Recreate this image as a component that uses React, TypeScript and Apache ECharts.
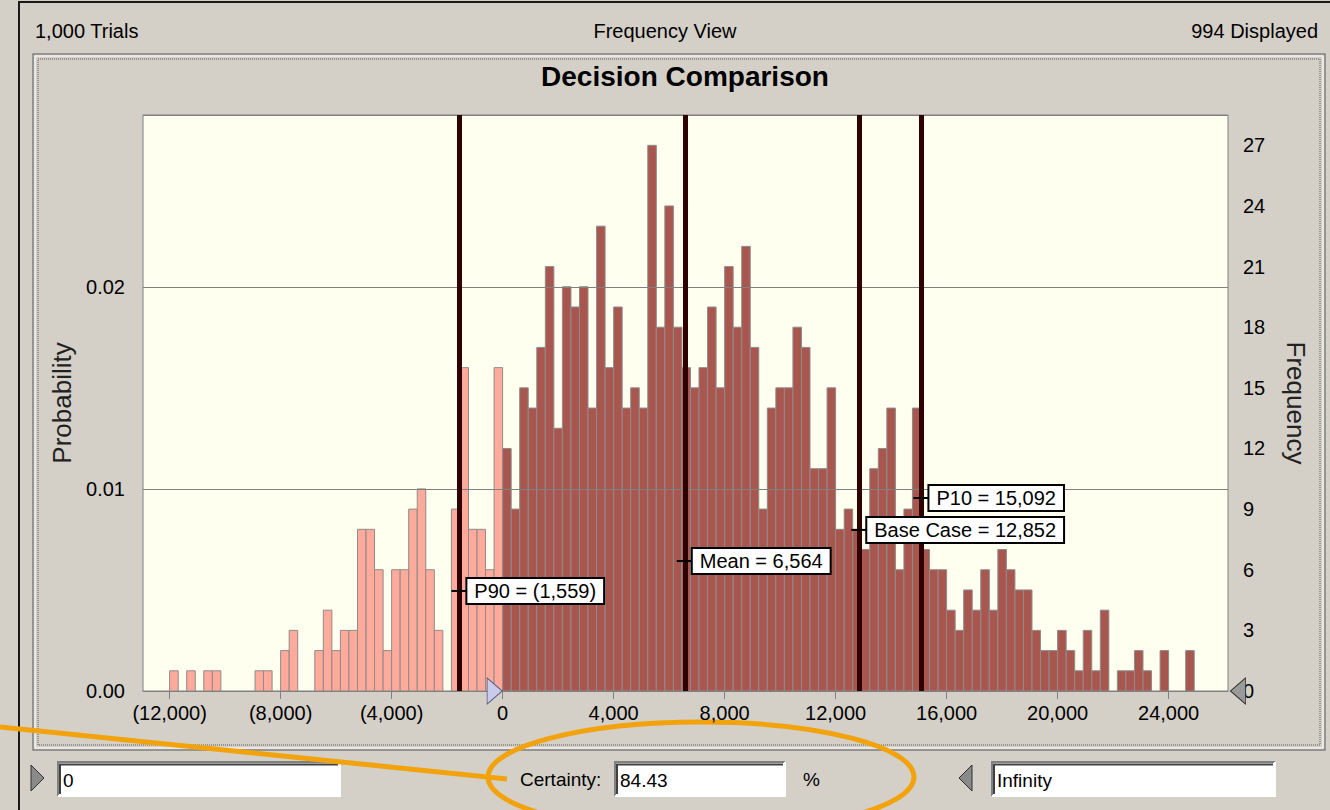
import React, { useEffect, useRef } from "react";
import * as echarts from "echarts";

// ---------- data ----------
const TRIALS = 1000;
const DISPLAYED = 994;
const CERTAINTY = "84.43";
const LOWER_BOUND = "0";
const UPPER_BOUND = "Infinity";
const BIN_START = -12000;
const BIN_WIDTH = 12000 / 39;
// frequencies of bins below the certainty lower bound (0), starting at BIN_START
const FREQ_BELOW_ZERO = [
  1, 0, 1, 0, 1, 1, 0, 0, 0, 0, 1, 1, 0, 2, 3, 0, 0, 2, 4, 2, 3, 3, 8, 8, 6, 2,
  6, 6, 9, 10, 6, 3, 0, 9, 16, 8, 8, 6, 16,
];
// frequencies of bins from 0 upwards
const FREQ_FROM_ZERO = [
  12, 9, 15, 14, 17, 21, 13, 20, 19, 20, 14, 23, 16, 19, 14, 15, 14, 27, 18, 24,
  18, 16, 15, 16, 19, 15, 21, 18, 22, 17, 9, 14, 15, 15, 18, 17, 11, 11, 15, 8,
  9, 8, 7, 11, 12, 14, 6, 9, 14, 7, 6, 6, 4, 3, 5, 4, 6, 4, 7, 6, 5, 5, 3, 2, 2,
  3, 2, 1, 3, 1, 4, 0, 1, 1, 2, 1, 0, 2, 0, 0, 2,
];
const X_TICKS = [-12000, -8000, -4000, 0, 4000, 8000, 12000, 16000, 20000, 24000];
const MARKER_NAMES = ["P90", "Mean", "Base Case", "P10"];
const MARKER_VALUES = [-1559, 6564, 12852, 15092];

// ---------- layout / style ----------
const X_MIN = -12960;
const X_MAX = 26140;
const FREQ_MAX = 28.5;
const LABEL_LEVELS = [4.95, 6.43, 7.97, 9.55];
const FONT = "'Liberation Sans', Arial, sans-serif";
const PINK = "#FFAA9B";
const DARK = "#A9564F";
const BAR_EDGE = "#8C8C8C";
const LINE_COLOR = "#2E0000";
const PANEL = "#D4D0C8";
const ORANGE = "#F2A30C";

function fmtNum(v: number): string {
  const s = String(Math.round(Math.abs(v))).replace(/\B(?=(\d{3})+(?!\d))/g, ",");
  return v < 0 ? `(${s})` : s;
}

function sunkenBox(x: number, y: number, w: number, h: number, text: string): any[] {
  return [
    { type: "rect", shape: { x, y, width: w, height: h }, style: { fill: "#ffffff" } },
    {
      type: "polyline",
      shape: { points: [[x, y + h], [x, y], [x + w, y]] },
      style: { stroke: "#808080", lineWidth: 2 },
    },
    {
      type: "polyline",
      shape: { points: [[x + 2, y + h - 2], [x + 2, y + 2.5], [x + w - 2, y + 2.5]] },
      style: { stroke: "#404040", lineWidth: 2 },
    },
    {
      type: "polyline",
      shape: { points: [[x, y + h], [x + w, y + h], [x + w, y]] },
      style: { stroke: "#ffffff", lineWidth: 2 },
    },
    {
      type: "text",
      x: x + 5,
      y: y + h / 2 + 1,
      style: { text, fontSize: 19, fontFamily: FONT, fill: "#000", verticalAlign: "middle" },
    },
  ];
}

export default function App() {
  const ref = useRef<HTMLDivElement>(null);

  useEffect(() => {
    if (!ref.current) return;
    const chart = echarts.init(ref.current, null, { renderer: "svg" });

    const bins: number[][] = [
      ...FREQ_BELOW_ZERO.map((f, i) => [
        BIN_START + i * BIN_WIDTH,
        BIN_START + (i + 1) * BIN_WIDTH,
        f,
        0,
      ]),
      ...FREQ_FROM_ZERO.map((f, i) => [i * BIN_WIDTH, (i + 1) * BIN_WIDTH, f, 1]),
    ];

    const graphic: any[] = [
      // window frame
      {
        type: "polyline",
        shape: { points: [[19, 810], [19, 2], [1330, 2]] },
        style: { stroke: "#1a1a1a", lineWidth: 2 },
      },
      // header
      {
        type: "text",
        x: 35,
        y: 31,
        style: {
          text: `${fmtNum(TRIALS)} Trials`,
          fontSize: 20,
          fontFamily: FONT,
          fill: "#000",
          verticalAlign: "middle",
        },
      },
      {
        type: "text",
        x: 665,
        y: 31,
        style: {
          text: "Frequency View",
          fontSize: 20,
          fontFamily: FONT,
          fill: "#000",
          align: "center",
          verticalAlign: "middle",
        },
      },
      {
        type: "text",
        x: 1318,
        y: 31,
        style: {
          text: `${DISPLAYED} Displayed`,
          fontSize: 20,
          fontFamily: FONT,
          fill: "#000",
          align: "right",
          verticalAlign: "middle",
        },
      },
      // chart panel borders
      {
        type: "rect",
        shape: { x: 33, y: 54, width: 1292, height: 696 },
        style: { fill: "none", stroke: "#808080", lineWidth: 1.5 },
      },
      {
        type: "rect",
        shape: { x: 35, y: 56, width: 1288, height: 692 },
        style: { fill: "none", stroke: "#ffffff", lineWidth: 1 },
      },
      {
        type: "rect",
        shape: { x: 38, y: 59, width: 1282, height: 686 },
        style: { fill: "none", stroke: "#555555", lineWidth: 1, lineDash: [1, 1] },
      },
      // bottom controls
      {
        type: "polygon",
        shape: { points: [[31, 765], [44, 778], [31, 791]] },
        style: { fill: "#8a8a8a", stroke: "#303030", lineWidth: 1 },
      },
      ...sunkenBox(58, 762, 282, 34, LOWER_BOUND),
      {
        type: "text",
        x: 520,
        y: 779,
        style: {
          text: "Certainty:",
          fontSize: 19,
          fontFamily: FONT,
          fill: "#000",
          verticalAlign: "middle",
        },
      },
      ...sunkenBox(615, 762, 170, 34, CERTAINTY),
      {
        type: "text",
        x: 803,
        y: 779,
        style: { text: "%", fontSize: 19, fontFamily: FONT, fill: "#000", verticalAlign: "middle" },
      },
      {
        type: "polygon",
        shape: { points: [[972, 765], [959, 778], [972, 791]] },
        style: { fill: "#8a8a8a", stroke: "#303030", lineWidth: 1 },
      },
      ...sunkenBox(992, 762, 283, 34, UPPER_BOUND),
      // annotation
      {
        type: "line",
        shape: { x1: 0, y1: 727, x2: 507, y2: 779 },
        style: { stroke: ORANGE, lineWidth: 5 },
      },
      {
        type: "ellipse",
        shape: { cx: 701, cy: 777, rx: 213, ry: 55 },
        style: { fill: "none", stroke: ORANGE, lineWidth: 5 },
      },
    ];

    const option: any = {
      animation: false,
      backgroundColor: PANEL,
      title: {
        text: "Decision Comparison",
        left: 685,
        top: 62,
        padding: 0,
        textAlign: "center",
        textStyle: { fontSize: 28, fontWeight: "bold", fontFamily: FONT, color: "#000" },
      },
      grid: {
        left: 143,
        right: 102,
        top: 115,
        bottom: 119,
        show: true,
        backgroundColor: "#FFFFF0",
        borderColor: "#808080",
        borderWidth: 1,
        outerBoundsMode: "none",
      },
      xAxis: {
        type: "value",
        min: X_MIN,
        max: X_MAX,
        axisLine: { show: true, lineStyle: { color: "#808080", width: 1 } },
        axisTick: {
          show: true,
          customValues: X_TICKS,
          length: 8,
          lineStyle: { color: "#808080" },
        },
        axisLabel: {
          customValues: X_TICKS,
          formatter: (v: number) => fmtNum(v),
          fontSize: 20,
          fontFamily: FONT,
          color: "#000",
          margin: 12,
        },
        splitLine: { show: false },
      },
      yAxis: [
        {
          type: "value",
          position: "left",
          min: 0,
          max: FREQ_MAX / TRIALS,
          interval: 0.01,
          z: 3,
          name: "Probability",
          nameLocation: "middle",
          nameGap: 66,
          nameTextStyle: { fontSize: 26, fontFamily: FONT, color: "#222" },
          axisLine: { show: false },
          axisTick: { show: false },
          axisLabel: {
            formatter: (v: number) => v.toFixed(2),
            showMaxLabel: false,
            fontSize: 20,
            fontFamily: FONT,
            color: "#000",
            margin: 18,
          },
          splitLine: { show: true, lineStyle: { color: "#808080", width: 1 } },
        },
        {
          type: "value",
          position: "right",
          min: 0,
          max: FREQ_MAX,
          interval: 3,
          name: "Frequency",
          nameLocation: "middle",
          nameRotate: -90,
          nameGap: 55,
          nameTextStyle: { fontSize: 26, fontFamily: FONT, color: "#222" },
          axisLine: { show: false },
          axisTick: { show: false },
          axisLabel: {
            showMaxLabel: false,
            fontSize: 20,
            fontFamily: FONT,
            color: "#000",
            margin: 15,
          },
          splitLine: { show: false },
        },
      ],
      series: [
        {
          type: "custom",
          name: "Frequency",
          xAxisIndex: 0,
          yAxisIndex: 1,
          z: 2,
          data: bins,
          encode: { x: [0, 1], y: 2 },
          renderItem: (params: any, api: any) => {
            const x0 = api.value(0);
            const x1 = api.value(1);
            const f = api.value(2);
            const certain = api.value(3);
            if (!f) return { type: "group", children: [] };
            const p0 = api.coord([x0, 0]);
            const p1 = api.coord([x1, f]);
            return {
              type: "rect",
              shape: { x: p0[0], y: p1[1], width: p1[0] - p0[0], height: p0[1] - p1[1] },
              style: { fill: certain ? DARK : PINK, stroke: BAR_EDGE, lineWidth: 1 },
            };
          },
        },
        {
          type: "scatter",
          name: "Markers",
          xAxisIndex: 0,
          yAxisIndex: 1,
          z: 5,
          symbol: "rect",
          symbolSize: [16, 2],
          itemStyle: { color: "#000", opacity: 1 },
          data: MARKER_VALUES.map((v, i) => ({ value: [v, LABEL_LEVELS[i]], name: MARKER_NAMES[i] })),
          label: {
            show: true,
            position: "right",
            distance: 0,
            formatter: (p: any) => `${p.name} = ${fmtNum(p.value[0])}`,
            backgroundColor: "#ffffff",
            borderColor: "#000000",
            borderWidth: 2,
            padding: [3, 7, 1, 7],
            fontSize: 20,
            fontFamily: FONT,
            color: "#000",
            opacity: 1,
          },
          markLine: {
            silent: true,
            symbol: ["none", "none"],
            label: { show: false },
            lineStyle: { color: LINE_COLOR, width: 5, type: "solid", opacity: 1 },
            data: MARKER_VALUES.map((v) => ({ xAxis: v })),
          },
        },
        {
          type: "scatter",
          name: "Bounds",
          xAxisIndex: 0,
          yAxisIndex: 1,
          z: 6,
          clip: false,
          symbol: "triangle",
          itemStyle: { opacity: 1 },
          data: [
            {
              value: [0, 0],
              symbolRotate: -90,
              symbolSize: [26, 15],
              symbolOffset: [-8, 0],
              itemStyle: { color: "#C9CBEA", borderColor: "#5a5a80", borderWidth: 1, opacity: 1 },
            },
            {
              value: [X_MAX, 0],
              symbolRotate: 90,
              symbolSize: [26, 15],
              symbolOffset: [10, 0],
              itemStyle: { color: "#9a9a9a", borderColor: "#303030", borderWidth: 1, opacity: 1 },
            },
          ],
        },
      ],
      graphic,
    };

    chart.setOption(option);
    return () => {
      chart.dispose();
    };
  }, []);

  return (
    <div
      ref={ref}
      style={{ position: "absolute", left: 0, top: 0, width: 1330, height: 810 }}
    />
  );
}
